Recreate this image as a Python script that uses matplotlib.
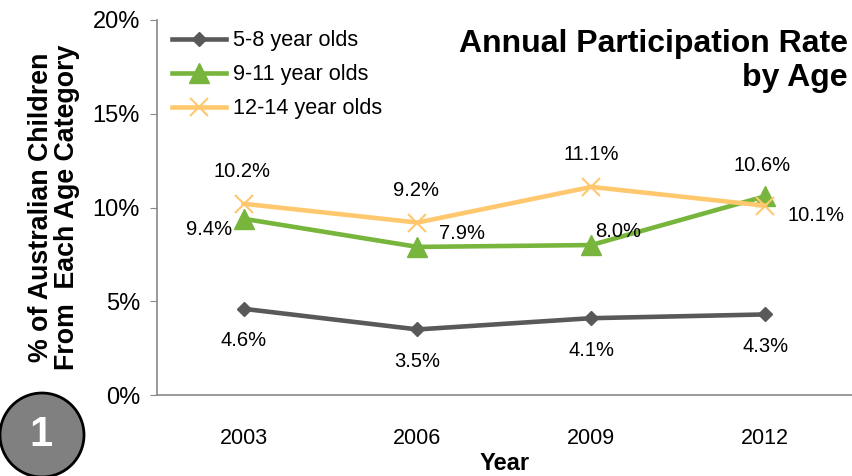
import matplotlib
matplotlib.use("Agg")
import matplotlib.pyplot as plt
from matplotlib.patches import Circle

years = ["2003", "2006", "2009", "2012"]
s58 = [4.6, 3.5, 4.1, 4.3]
s911 = [9.4, 7.9, 8.0, 10.6]
s1214 = [10.2, 9.2, 11.1, 10.1]
names = ["5-8 year olds", "9-11 year olds", "12-14 year olds"]

plt.rcParams['font.family'] = ['Liberation Sans', 'DejaVu Sans']

fig = plt.figure(figsize=(8.52, 4.76), dpi=100)
ax = fig.add_axes([0.184, 0.170, 0.816, 0.788])
x = list(range(len(years)))

c1, c2, c3 = "#595959", "#77B53C", "#FFC86E"
ax.plot(x, s58, color=c1, lw=3.3, marker="D", ms=7, label=names[0])
ax.plot(x, s911, color=c2, lw=3.3, marker="^", ms=14, label=names[1])
ax.plot(x, s1214, color=c3, lw=3.3, marker="x", ms=13, mew=1.5, label=names[2])

fs = 14.5
for i, v in enumerate(s58):
    ax.annotate(f"{v}%", (i, v), xytext=(0, -23), textcoords="offset points",
                ha="center", va="center", fontsize=fs)
offs911 = [(-25, -8), (32, 10), (19, 10), (-2, 22)]
for i, v in enumerate(s911):
    ax.annotate(f"{v}%", (i, v), xytext=offs911[i], textcoords="offset points",
                ha="center", va="center", fontsize=fs)
offs1214 = [(-1, 23), (-1, 23), (0, 23), (37, -7)]
for i, v in enumerate(s1214):
    ax.annotate(f"{v}%", (i, v), xytext=offs1214[i], textcoords="offset points",
                ha="center", va="center", fontsize=fs)

ax.set_xlim(-0.5, 3.5)
ax.set_ylim(0, 20)
ax.set_yticks([0, 5, 10, 15, 20])
ax.set_yticklabels(["0%", "5%", "10%", "15%", "20%"], fontsize=17)
ax.set_xticks(x)
ax.set_xticklabels(years, fontsize=15.5)
ax.tick_params(axis="x", length=0, pad=24)
ax.tick_params(axis="y", length=5, color="#888888", pad=7)
for s in ["top", "right"]:
    ax.spines[s].set_visible(False)
for s in ["left", "bottom"]:
    ax.spines[s].set_color("#888888")
    ax.spines[s].set_linewidth(1.2)
ax.set_xlabel("Year", fontsize=17, fontweight="bold", labelpad=2)
ax.set_ylabel("% of Australian Children\nFrom  Each Age Category", fontsize=19.3,
              fontweight="bold", labelpad=9, linespacing=1.0)

ax.text(0.994, 0.975, "Annual Participation Rate\nby Age", transform=ax.transAxes,
        ha="right", va="top", fontsize=23, fontweight="bold", linespacing=1.15)

leg = ax.legend(loc="upper left", bbox_to_anchor=(0.0, 1.013), frameon=False,
                fontsize=15.6, handlelength=2.5, handletextpad=0.3, labelspacing=0.6,
                borderaxespad=0.3)

circ = Circle((0.42, 0.41), 0.42, transform=fig.dpi_scale_trans, facecolor="#808080",
              edgecolor="black", lw=2, clip_on=False)
fig.patches.append(circ)
fig.text(0.41, 0.41, "1", transform=fig.dpi_scale_trans, ha="center", va="center",
         color="white", fontsize=30, fontweight="bold")

fig.savefig("out.png", dpi=100)
